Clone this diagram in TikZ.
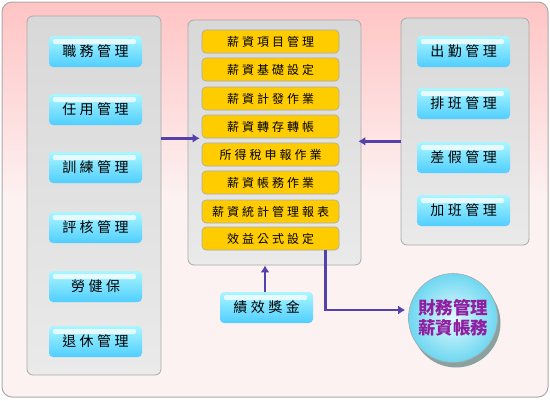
\documentclass[tikz,border=0pt]{standalone}
\usepackage{fontspec}
\usetikzlibrary{arrows.meta,shadows}
\newfontfamily\cjk[LetterSpace=25]{Noto Sans CJK TC}
\newfontfamily\cjkn{Noto Sans CJK TC}
\definecolor{pinktop}{RGB}{255,196,196}
\definecolor{pinkbot}{RGB}{253,242,242}
\definecolor{pgtop}{RGB}{216,216,216}
\definecolor{pgbot}{RGB}{234,234,234}
\definecolor{bordgray}{RGB}{170,170,170}
\definecolor{cyantop}{RGB}{170,246,255}
\definecolor{cyanbot}{RGB}{80,206,255}
\definecolor{yell}{RGB}{255,204,0}
\definecolor{arrcol}{RGB}{84,66,170}
\definecolor{fintext}{RGB}{145,30,160}
\definecolor{circin}{RGB}{225,250,255}
\definecolor{circout}{RGB}{110,215,240}
\begin{document}
\begin{tikzpicture}[x=1pt,y=-1pt,
  panel/.style={draw=bordgray,line width=0.8pt,rounded corners=6pt,top color=pgtop,middle color=white,bottom color=pgbot,inner sep=0},
  btn/.style={rounded corners=4pt,top color=cyantop,bottom color=cyanbot,minimum width=93pt,minimum height=31pt,inner sep=0,font=\cjk\fontsize{14}{14}\selectfont,
    path picture={\fill[fill=white,opacity=0.75,rounded corners=2pt] ([xshift=4pt,yshift=-3pt]path picture bounding box.north west) rectangle ([xshift=-6pt,yshift=-8pt]path picture bounding box.north east);}},
  ybox/.style={draw=bordgray,line width=0.6pt,fill=yell,rounded corners=4pt,minimum width=137pt,minimum height=23pt,inner sep=0,font=\cjk\fontsize{12}{12}\selectfont},
  arr/.style={draw=arrcol,line width=2.5pt,-{Latex[length=7pt,width=9pt]}}]
\useasboundingbox (0,0) rectangle (550,400);
% outer background
\path[draw=bordgray,line width=1pt,rounded corners=10pt,top color=pinktop,bottom color=pinkbot,middle color=pinkbot] (2,2) rectangle (548,397);
% panels
\node[panel,minimum width=134pt,minimum height=359pt] (lp) at (94,195.5) {};
\node[panel,minimum width=173pt,minimum height=245pt] (mp) at (274.5,142.5) {};
\node[panel,minimum width=128pt,minimum height=227pt] (rp) at (465,131.5) {};
% left buttons
\node[btn] (l1) at (95.5,51.5) {職務管理};
\node[btn] (l2) at (95.5,109.5) {任用管理};
\node[btn] (l3) at (95.5,167.5) {訓練管理};
\node[btn] (l4) at (95.5,227.5) {評核管理};
\node[btn] (l5) at (95.5,286.5) {勞健保};
\node[btn] (l6) at (95.5,341.5) {退休管理};
% right buttons
\node[btn] (r1) at (463.5,51.5) {出勤管理};
\node[btn] (r2) at (463.5,103.5) {排班管理};
\node[btn] (r3) at (463.5,157.5) {差假管理};
\node[btn] (r4) at (463.5,210.5) {加班管理};
% bonus
\node[btn] (jx) at (266.5,307.5) {績效獎金};
% yellow boxes
\node[ybox] (y1) at (270.5,41.5) {薪資項目管理};
\node[ybox] (y2) at (270.5,69.5) {薪資基礎設定};
\node[ybox] (y3) at (270.5,98.5) {薪資計發作業};
\node[ybox] (y4) at (270.5,126.5) {薪資轉存轉帳};
\node[ybox] (y5) at (270.5,154.5) {所得稅申報作業};
\node[ybox] (y6) at (270.5,182.5) {薪資帳務作業};
\node[ybox] (y7) at (270.5,211.5) {薪資統計管理報表};
\node[ybox] (y8) at (270.5,238.5) {效益公式設定};
% finance circle
\node[circle,draw=bordgray,line width=0.6pt,minimum size=89pt,inner color=circin,outer color=circout,
  drop shadow={shadow xshift=3pt,shadow yshift=-5pt,opacity=0.45,fill=teal!50!black},
  font=\cjkn\bfseries\fontsize{17.5}{20}\selectfont,text=fintext,align=center] (fin) at (453,318) {財務管理\\薪資帳務};
% arrows
\draw[arr] (lp.east |- y4.south west) -- ([xshift=-2pt]y4.south west);
\draw[arr] ([yshift=-3pt]rp.west |- y4.south) -- ([xshift=-3pt,yshift=-3pt]mp.east |- y4.south);
\draw[arr] ([xshift=-1.5pt]jx.north) -- ([xshift=-1.5pt]mp.south -| jx.north);
\draw[arr] ([xshift=-14pt]y8.south east) |- ([xshift=-3pt,yshift=8pt]fin.west);
\end{tikzpicture}
\end{document}
